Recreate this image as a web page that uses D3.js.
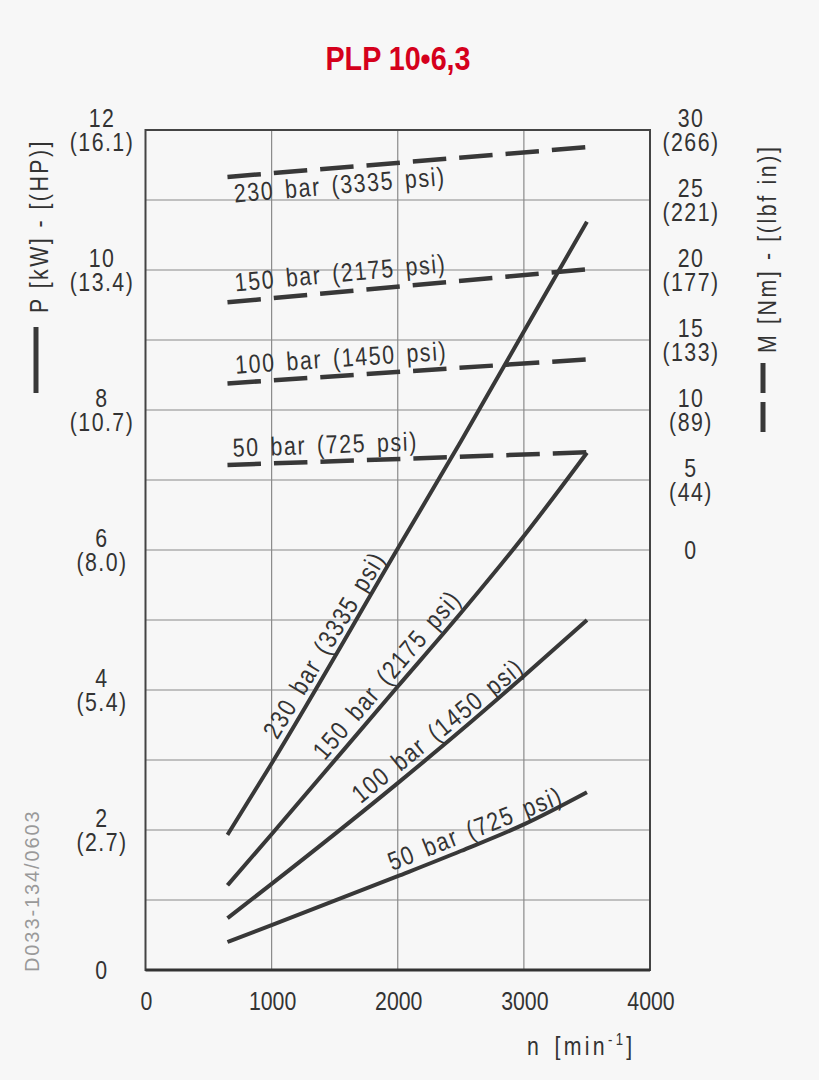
<!DOCTYPE html>
<html>
<head>
<meta charset="utf-8">
<script src="https://cdn.jsdelivr.net/npm/d3@7"></script>
<style>
  body { margin: 0; background: #f7f7f7; }
  text { font-family: "Liberation Sans", Arial, sans-serif; fill: #333; }
</style>
</head>
<body>
<div id="chart"></div>
<script>
// speed n [min-1] at which the curves were read
var speed = [650, 1000, 2000, 2500, 3000, 3500];
var torqueSpeed = [650, 3500];

// power P [kW], solid lines
var power50 = [0.40, 0.64, 1.34, 1.70, 2.08, 2.54];
var power100 = [0.74, 1.23, 2.67, 3.42, 4.20, 5.00];
var power150 = [1.21, 1.94, 4.05, 5.10, 6.20, 7.39];
var power230 = [1.93, 2.95, 6.02, 7.55, 9.12, 10.69];

// torque M [Nm], dashed lines
var torque50 = [6.07, 6.98];
var torque100 = [11.9, 13.62];
var torque150 = [17.69, 20.05];
var torque230 = [26.65, 28.77];

var pressureLabels = ["50 bar (725 psi)", "100 bar (1450 psi)", "150 bar (2175 psi)", "230 bar (3335 psi)"];

// tick labels
var speedTicks = [0, 1000, 2000, 3000, 4000];
var powerTicks = [0, 2, 4, 6, 8, 10, 12];
var powerHP = ["", "(2.7)", "(5.4)", "(8.0)", "(10.7)", "(13.4)", "(16.1)"];
var torqueTicks = [0, 5, 10, 15, 20, 25, 30];
var torqueLbf = ["", "(44)", "(89)", "(133)", "(177)", "(221)", "(266)"];

(function(){
var W = 819, H = 1080;
var pl = 145.5, pr = 650, pt = 130, pb = 970;
var ink = "#383838";
var SX = 0.82;   // narrow drafting lettering

var svg = d3.select("#chart").append("svg")
    .attr("width", W).attr("height", H);
svg.append("rect").attr("width", W).attr("height", H).attr("fill", "#f7f7f7");

var x = d3.scaleLinear().domain([0, 4000]).range([pl, pr]);
var y = d3.scaleLinear().domain([0, 12]).range([pb, pt]);
var yM = d3.scaleLinear().domain([0, 30]).range([y(6), y(12)]);

// text helper: squeezed horizontally around its anchor
function label(tx, ty, ang, s, o) {
    o = o || {};
    var t = svg.append("text")
        .attr("transform", "translate(" + tx + "," + ty + ") rotate(" + (ang || 0) + ")" +
              (o.dy ? " translate(0," + o.dy + ")" : "") + " scale(" + (o.sx || SX) + ",1)")
        .attr("text-anchor", o.anchor || "start")
        .style("font-size", (o.size || 26) + "px")
        .style("letter-spacing", (o.ls || 0) + "px")
        .style("word-spacing", (o.ws || 0) + "px");
    if (o.weight) t.style("font-weight", o.weight);
    if (o.fill) t.style("fill", o.fill);
    if (s !== null) t.text(s);
    return t;
}

// title
label(398, 70, 0, "PLP 10\u20226,3", {anchor: "middle", size: 33, sx: 0.87, weight: "bold", fill: "#d5001c"});

// grid
var grid = svg.append("g").attr("stroke", "#8a8a8a").attr("stroke-width", 1.2);
grid.selectAll(".gy").data(d3.range(1, 12)).enter().append("line")
    .attr("x1", pl).attr("x2", pr)
    .attr("y1", function(d){ return y(d); }).attr("y2", function(d){ return y(d); });
grid.selectAll(".gx").data([1000, 2000, 3000]).enter().append("line")
    .attr("y1", pt).attr("y2", pb)
    .attr("x1", function(d){ return x(d); }).attr("x2", function(d){ return x(d); });

// frame
svg.append("rect")
    .attr("x", pl).attr("y", pt).attr("width", pr - pl).attr("height", pb - pt)
    .attr("fill", "none").attr("stroke", "#444").attr("stroke-width", 2);
svg.append("line")
    .attr("x1", pl).attr("x2", pr).attr("y1", pb).attr("y2", pb)
    .attr("stroke", "#333").attr("stroke-width", 3);

// x tick labels
speedTicks.forEach(function(d){
    label(x(d) + 1, 1010, 0, String(d), {anchor: "middle"});
});

var xt = label(527, 1055, 0, null, {ls: 4, ws: 4});
xt.append("tspan").text("n [min");
xt.append("tspan").attr("dy", -10).style("font-size", "16px").text("-1");
xt.append("tspan").attr("dy", 10).text("]");

// two-line tick labels (metric over imperial)
function twoLine(values, sub, scale, cx) {
    values.forEach(function(v, i){
        if (sub[i] === "") {
            label(cx, scale(v) + 9, 0, String(v), {anchor: "middle", ls: 1.8});
        } else {
            label(cx, scale(v) - 3, 0, String(v), {anchor: "middle", ls: 1.8});
            label(cx, scale(v) + 21, 0, sub[i], {anchor: "middle", ls: 1.8});
        }
    });
}
twoLine(powerTicks, powerHP, y, 102);
twoLine(torqueTicks, torqueLbf, yM, 691);

// axis titles with legend strokes
label(48, 313, -90, "P [kW] - [(HP)]", {ls: 3});
svg.append("line").attr("x1", 36).attr("x2", 36).attr("y1", 327).attr("y2", 393)
    .attr("stroke", ink).attr("stroke-width", 5);

label(776, 353, -90, "M [Nm] - [(lbf in)]", {ls: 3.2});
svg.append("line").attr("x1", 763).attr("x2", 763).attr("y1", 363).attr("y2", 432)
    .attr("stroke", ink).attr("stroke-width", 5).attr("stroke-dasharray", "30,9");

// drawing number
label(39, 972, -90, "D033-134/0603", {size: 20, sx: 1, ls: 1.9, fill: "#999"});

// curves
var line = d3.line()
    .x(function(d){ return x(d[0]); })
    .y(function(d){ return y(d[1]); })
    .curve(d3.curveMonotoneX);
var lineM = d3.line()
    .x(function(d){ return x(d[0]); })
    .y(function(d){ return yM(d[1]); });

function pairs(xs, ys) { return xs.map(function(v, i){ return [v, ys[i]]; }); }

function labelOn(path, t, offset, txt) {
    var node = path.node();
    var L = node.getTotalLength();
    var a = node.getPointAtLength(L * t);
    var b = node.getPointAtLength(Math.min(L, L * t + 6));
    var ang = Math.atan2(b.y - a.y, b.x - a.x) * 180 / Math.PI;
    label(a.x, a.y, ang, txt, {dy: offset, ls: 2, ws: 4});
}

var powers = [power50, power100, power150, power230];
var solidPos = [[0.46, -7], [0.375, -7], [0.28, -7], [0.15, -7]];
powers.forEach(function(pw, i){
    var path = svg.append("path")
        .datum(pairs(speed, pw))
        .attr("d", line)
        .attr("fill", "none").attr("stroke", ink).attr("stroke-width", 4);
    labelOn(path, solidPos[i][0], solidPos[i][1], pressureLabels[i]);
});

var torques = [torque50, torque100, torque150, torque230];
var dashPos = [[0.016, -8], [0.025, -9], [0.025, -10], [0.014, 26]];
torques.forEach(function(tq, i){
    var path = svg.append("path")
        .datum(pairs(torqueSpeed, tq))
        .attr("d", lineM)
        .attr("fill", "none").attr("stroke", ink).attr("stroke-width", 4.5)
        .attr("stroke-dasharray", "33.5,13");
    labelOn(path, dashPos[i][0], dashPos[i][1], pressureLabels[i]);
});
})();
</script>
</body>
</html>
